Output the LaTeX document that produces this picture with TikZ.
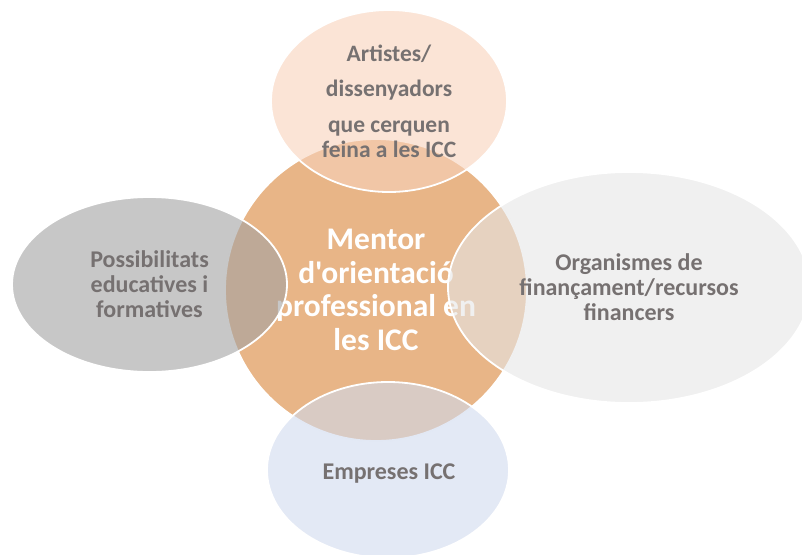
\documentclass[tikz,border=0pt]{standalone}
\usepackage{fontspec}
\setmainfont{Carlito}
\newfontfamily\carlplain{Carlito}
\usetikzlibrary{shapes.geometric}
\definecolor{hubfill}{HTML}{E8B587}
\definecolor{topfill}{RGB}{248,210,187}
\definecolor{leftfill}{RGB}{162,162,162}
\definecolor{rightfill}{RGB}{230,230,230}
\definecolor{botfill}{RGB}{208,218,238}
\definecolor{txtgrey}{HTML}{767171}
\begin{document}
\begin{tikzpicture}[x=1pt,y=-1pt,
  blob/.style={ellipse, draw=white, line width=1.8pt, inner sep=0pt,
    fill opacity=0.6, draw opacity=1, text opacity=1, align=center,
    text=txtgrey, font=\bfseries\fontsize{24}{25}\selectfont},
  label/.style={align=center, text=txtgrey, inner sep=0pt,
    font=\bfseries\fontsize{24}{25}\selectfont}]
\useasboundingbox (0,0) rectangle (802,554);
\node[circle, fill=hubfill, draw=white, line width=1.8pt, minimum size=302pt,
  inner sep=0pt, align=center, text=white,
  font=\carlplain\bfseries\fontsize{31.5}{33.7}\selectfont] (hub) at (376,290)
  {Mentor\\d'orientació\\professional en\\les ICC};
\node[blob, fill=topfill, minimum width=236pt, minimum height=182pt,
  font=\bfseries\fontsize{23.5}{25}\selectfont] (artistes) at (389,101)
  {Artistes/\\[10pt]dissenyadors\\[11pt]que cerquen\\feina a les ICC};
\node[blob, fill=leftfill, minimum width=275pt, minimum height=175pt] (educ) at (149.5,284.5)
  {Possibilitats\\educatives i\\formatives};
\node[blob, fill=rightfill, minimum width=362pt, minimum height=231pt] (finan) at (629,287.5)
  {Organismes de\\finançament/recursos\\financers};
\node[blob, fill=botfill, minimum width=242pt, minimum height=176pt] (empreses) at (388,470) {};
\node[label] (emplabel) at (389,474) {Empreses ICC};
\end{tikzpicture}
\end{document}
